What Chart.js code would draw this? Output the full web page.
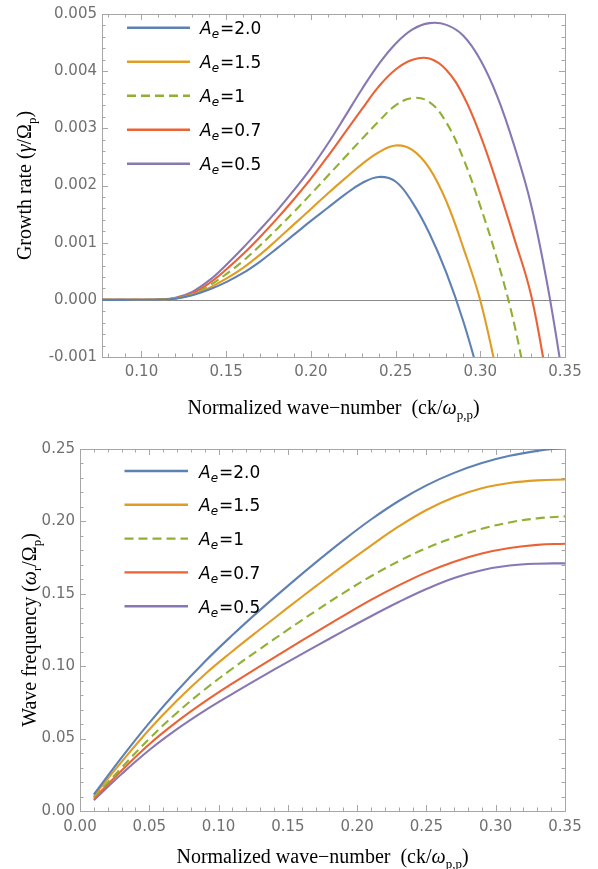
<!DOCTYPE html>
<html><head><meta charset="utf-8">
<script src="https://cdn.jsdelivr.net/npm/chart.js@4.4.1/dist/chart.umd.min.js"></script>
<style>
html,body{margin:0;padding:0;background:#fff;}
#wrap{position:relative;width:598px;height:869px;overflow:hidden;}
canvas{position:absolute;left:0;}
</style></head><body>
<div id="wrap">
<canvas id="c1" width="598" height="430" style="top:0px"></canvas>
<canvas id="c2" width="598" height="439" style="top:430px"></canvas>
</div>
<script>
// ---------- data ----------
const aeLabels = ['2.0', '1.5', '1', '0.7', '0.5'];
const seriesColors = ['#5E81B5', '#E19C24', '#8FB032', '#EB6235', '#8778B3'];

// top panel: growth rate vs normalized wave-number
const kGrowth = [0.0767, 0.09, 0.10, 0.11, 0.12, 0.13, 0.14, 0.15, 0.16, 0.17, 0.18, 0.19, 0.20, 0.21, 0.22, 0.23, 0.24, 0.25, 0.26, 0.27, 0.28, 0.29, 0.30, 0.31, 0.32, 0.33, 0.34, 0.35];
const growthA20 = [0, 0, 0.000001, 0.000004, 0.000020, 0.00008, 0.00018, 0.00031, 0.00047, 0.00067, 0.00090, 0.00114, 0.00138, 0.00161, 0.00184, 0.00204, 0.00215, 0.00207, 0.00170, 0.00116, 0.00047, -0.00038, -0.00140, null, null, null, null, null];
const growthA15 = [0, 0, 0.000001, 0.000005, 0.000022, 0.00009, 0.00021, 0.00037, 0.00056, 0.00079, 0.00105, 0.00132, 0.00159, 0.00186, 0.00212, 0.00237, 0.00258, 0.00270, 0.00262, 0.00230, 0.00172, 0.00091, -0.00001, -0.00130, null, null, null, null];
const growthA10 = [0, 0, 0.000001, 0.000005, 0.000025, 0.00010, 0.00025, 0.00045, 0.00068, 0.00095, 0.00124, 0.00154, 0.00185, 0.00217, 0.00249, 0.00281, 0.00312, 0.00340, 0.00353, 0.00346, 0.00310, 0.00247, 0.00164, 0.00070, -0.00042, -0.00190, null, null];
const growthA07 = [0, 0, 0.000001, 0.000005, 0.000028, 0.00011, 0.00029, 0.00053, 0.00080, 0.00110, 0.00142, 0.00176, 0.00212, 0.00251, 0.00292, 0.00333, 0.00373, 0.00403, 0.00420, 0.00422, 0.00402, 0.00357, 0.00288, 0.00202, 0.00108, 0.00008, -0.00150, null];
const growthA05 = [0, 0, 0.000001, 0.000005, 0.000035, 0.00014, 0.00034, 0.00061, 0.00091, 0.00123, 0.00156, 0.00192, 0.00230, 0.00273, 0.00320, 0.00368, 0.00412, 0.00448, 0.00473, 0.00484, 0.00481, 0.00462, 0.00420, 0.00356, 0.00270, 0.00166, 0.00020, -0.00160];
const growthYTicks = [-0.001, 0.000, 0.001, 0.002, 0.003, 0.004, 0.005];
const growthXTicks = [0.10, 0.15, 0.20, 0.25, 0.30, 0.35];

// bottom panel: wave frequency vs normalized wave-number
const kFreq = [0.01, 0.03, 0.05, 0.07, 0.09, 0.11, 0.13, 0.15, 0.17, 0.19, 0.21, 0.23, 0.25, 0.27, 0.29, 0.31, 0.33, 0.35];
const freqA20 = [0.0115, 0.0369, 0.0609, 0.0829, 0.1031, 0.1215, 0.1389, 0.1555, 0.1715, 0.1869, 0.2013, 0.2141, 0.2249, 0.2335, 0.2403, 0.2453, 0.2487, 0.2509];
const freqA15 = [0.0105, 0.0339, 0.0563, 0.0763, 0.0943, 0.1103, 0.1255, 0.1404, 0.1551, 0.1695, 0.1833, 0.1965, 0.2079, 0.2167, 0.2229, 0.2265, 0.2283, 0.2289];
const freqA10 = [0.0095, 0.0299, 0.0499, 0.0679, 0.0839, 0.0984, 0.1120, 0.1252, 0.1381, 0.1505, 0.1621, 0.1725, 0.1815, 0.1889, 0.1949, 0.1993, 0.2021, 0.2035];
const freqA07 = [0.0085, 0.0279, 0.0461, 0.0617, 0.0755, 0.0881, 0.1001, 0.1118, 0.1234, 0.1348, 0.1458, 0.1558, 0.1648, 0.1722, 0.1778, 0.1816, 0.1838, 0.1846];
const freqA05 = [0.0075, 0.0255, 0.0421, 0.0565, 0.0693, 0.0809, 0.0921, 0.1030, 0.1137, 0.1242, 0.1345, 0.1443, 0.1533, 0.1609, 0.1663, 0.1695, 0.1708, 0.1710];
const freqYTicks = [0.00, 0.05, 0.10, 0.15, 0.20, 0.25];
const freqXTicks = [0.00, 0.05, 0.10, 0.15, 0.20, 0.25, 0.30, 0.35];

// ---------- helpers ----------
const SERIF = '"Liberation Serif", "DejaVu Serif", serif';
const SANS = '"DejaVu Sans", sans-serif';

function drawRich(ctx, segs, cx, cy, rotate) {
  ctx.save();
  ctx.translate(cx, cy);
  if (rotate) ctx.rotate(-Math.PI / 2);
  ctx.textBaseline = 'alphabetic';
  ctx.fillStyle = '#000';
  let total = 0;
  segs.forEach(s => { ctx.font = s.font; total += ctx.measureText(s.t).width; });
  let x = -total / 2;
  segs.forEach(s => {
    ctx.font = s.font;
    ctx.fillText(s.t, x, 6 + (s.dy || 0));
    x += ctx.measureText(s.t).width;
  });
  ctx.restore();
}

function makeDatasets(xs, arrays, mode) {
  return arrays.map((arr, i) => ({
    label: 'A_e=' + aeLabels[i],
    data: xs.map((x, j) => ({ x: x, y: arr[j] })),
    borderColor: seriesColors[i],
    backgroundColor: seriesColors[i],
    borderWidth: 2.1,
    borderDash: i === 2 ? [9, 5] : [],
    pointRadius: 0,
    tension: 0.4,
    cubicInterpolationMode: mode,
    fill: false,
    spanGaps: false
  }));
}

const framePlugin = {
  id: 'frame',
  beforeDatasetsDraw(chart, args, o) {
    const { ctx, chartArea: a, scales } = chart;
    const x = scales.x, y = scales.y;
    ctx.save();
    ctx.beginPath();
    ctx.rect(a.left, a.top, a.right - a.left, a.bottom - a.top);
    ctx.clip();
    if (o.zeroLine) {
      const py = Math.round(y.getPixelForValue(0)) + 0.5;
      ctx.strokeStyle = '#8a8a8a';
      ctx.lineWidth = 1;
      ctx.beginPath(); ctx.moveTo(a.left, py); ctx.lineTo(a.right, py); ctx.stroke();
    }
    ctx.strokeStyle = '#a6a6a6';
    ctx.lineWidth = 1;
    const eps = 1e-9;
    const xTick = (v, len) => {
      const px = Math.round(x.getPixelForValue(v)) + 0.5;
      ctx.beginPath();
      ctx.moveTo(px, a.bottom); ctx.lineTo(px, a.bottom - len);
      ctx.moveTo(px, a.top); ctx.lineTo(px, a.top + len);
      ctx.stroke();
    };
    const yTick = (v, len) => {
      const py = Math.round(y.getPixelForValue(v)) + 0.5;
      ctx.beginPath();
      ctx.moveTo(a.left, py); ctx.lineTo(a.left + len, py);
      ctx.moveTo(a.right, py); ctx.lineTo(a.right - len, py);
      ctx.stroke();
    };
    for (let i = 0; ; i++) {
      const v = o.xMinorStart + i * o.xMinorStep;
      if (v > x.max + eps) break;
      const isMajor = Math.abs(v / o.xMajorStep - Math.round(v / o.xMajorStep)) < 1e-6;
      xTick(v, isMajor ? 6 : 3.5);
    }
    for (let i = 0; ; i++) {
      const v = o.yMinorStart + i * o.yMinorStep;
      if (v > y.max + eps) break;
      const isMajor = Math.abs(v / o.yMajorStep - Math.round(v / o.yMajorStep)) < 1e-6;
      yTick(v, isMajor ? 6 : 3.5);
    }
    ctx.restore();
    ctx.save();
    ctx.strokeStyle = '#a6a6a6';
    ctx.lineWidth = 1;
    ctx.strokeRect(Math.round(a.left) + 0.5, Math.round(a.top) + 0.5, Math.round(a.right) - Math.round(a.left), Math.round(a.bottom) - Math.round(a.top));
    ctx.restore();
  },
  afterDraw(chart, args, o) {
    const { ctx, chartArea: a } = chart;
    const L = o.legend;
    chart.data.datasets.forEach((ds, i) => {
      const yy = L.y0 + i * L.dy;
      ctx.save();
      ctx.strokeStyle = ds.borderColor;
      ctx.lineWidth = 2.4;
      ctx.setLineDash(ds.borderDash || []);
      ctx.beginPath(); ctx.moveTo(L.x0, yy); ctx.lineTo(L.x1, yy); ctx.stroke();
      ctx.setLineDash([]);
      ctx.fillStyle = '#000';
      ctx.textBaseline = 'alphabetic';
      let tx = L.tx;
      const base = yy + 6.5;
      ctx.font = 'italic 17px ' + SANS;
      ctx.fillText('A', tx, base);
      tx += ctx.measureText('A').width;
      ctx.font = 'italic 12px ' + SANS;
      ctx.fillText('e', tx, base + 4);
      tx += ctx.measureText('e').width + 1;
      ctx.font = '17px ' + SANS;
      ctx.fillText('=' + aeLabels[i], tx, base);
      ctx.restore();
    });
    const cx = (a.left + a.right) / 2;
    const cy = (a.top + a.bottom) / 2;
    drawRich(ctx, o.xTitle, cx, o.xTitleY, false);
    drawRich(ctx, o.yTitle, o.yTitleX, cy, true);
  }
};

const F = 20;
const xTitleSegs = [
  { t: 'Normalized wave\u2212number  (ck/', font: `${F}px ${SERIF}` },
  { t: '\u03C9', font: `italic ${F}px ${SERIF}` },
  { t: 'p,p', font: `13px ${SERIF}`, dy: 5 },
  { t: ')', font: `${F}px ${SERIF}` }
];

function axisCommon(min, max, tickVals, fmt, pad, afterFitFn) {
  return {
    type: 'linear', min: min, max: max,
    grid: { display: false, drawTicks: false },
    border: { display: false },
    afterBuildTicks: s => { s.ticks = tickVals.map(v => ({ value: v })); },
    afterFit: afterFitFn,
    ticks: {
      padding: pad,
      color: '#707070',
      font: { family: 'DejaVu Sans', size: 15 },
      callback: v => Number(v).toFixed(fmt),
      autoSkip: false, maxRotation: 0
    }
  };
}

new Chart(document.getElementById('c1'), {
  type: 'line',
  data: { datasets: makeDatasets(kGrowth, [growthA20, growthA15, growthA10, growthA07, growthA05], 'default') },
  options: {
    responsive: false, animation: false, devicePixelRatio: 1,
    events: [],
    layout: { padding: { left: 0, right: 33, top: 11, bottom: 0 } },
    plugins: {
      legend: { display: false }, tooltip: { enabled: false },
      frame: {
        zeroLine: true,
        xMinorStart: 0.08, xMinorStep: 0.01, xMajorStep: 0.05,
        yMinorStart: -0.001, yMinorStep: 0.0002, yMajorStep: 0.001,
        legend: { x0: 127, x1: 190, tx: 200, y0: 27.7, dy: 34 },
        xTitle: xTitleSegs, xTitleY: 408,
        yTitle: [
          { t: 'Growth rate (', font: `${F}px ${SERIF}` },
          { t: '\u03B3', font: `italic ${F}px ${SERIF}` },
          { t: '/\u03A9', font: `${F}px ${SERIF}` },
          { t: 'p', font: `13px ${SERIF}`, dy: 5 },
          { t: ')', font: `${F}px ${SERIF}` }
        ],
        yTitleX: 25
      }
    },
    scales: {
      x: axisCommon(0.0767, 0.35, growthXTicks, 2, 6, s => { s.height = 73; }),
      y: axisCommon(-0.001, 0.005, growthYTicks, 3, 5, s => { s.width = 102; })
    }
  },
  plugins: [framePlugin]
});

new Chart(document.getElementById('c2'), {
  type: 'line',
  data: { datasets: makeDatasets(kFreq, [freqA20, freqA15, freqA10, freqA07, freqA05], 'default') },
  options: {
    responsive: false, animation: false, devicePixelRatio: 1,
    events: [],
    layout: { padding: { left: 0, right: 33, top: 19, bottom: 0 } },
    plugins: {
      legend: { display: false }, tooltip: { enabled: false },
      frame: {
        zeroLine: false,
        xMinorStart: 0.0, xMinorStep: 0.01, xMajorStep: 0.05,
        yMinorStart: 0.0, yMinorStep: 0.01, yMajorStep: 0.05,
        legend: { x0: 124.5, x1: 188, tx: 199, y0: 41, dy: 33.8 },
        xTitle: xTitleSegs, xTitleY: 427,
        yTitle: [
          { t: 'Wave frequency (', font: `${F}px ${SERIF}` },
          { t: '\u03C9', font: `italic ${F}px ${SERIF}` },
          { t: 'r', font: `13px ${SERIF}`, dy: 5 },
          { t: '/\u03A9', font: `${F}px ${SERIF}` },
          { t: 'p', font: `13px ${SERIF}`, dy: 5 },
          { t: ')', font: `${F}px ${SERIF}` }
        ],
        yTitleX: 30
      }
    },
    scales: {
      x: axisCommon(0, 0.35, freqXTicks, 2, 7, s => { s.height = 58; }),
      y: axisCommon(0, 0.25, freqYTicks, 2, 5, s => { s.width = 80; })
    }
  },
  plugins: [framePlugin]
});
</script>
</body></html>
